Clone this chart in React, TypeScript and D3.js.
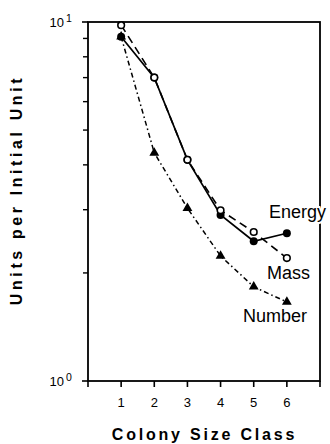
import React from "react";
import * as d3 from "d3";

const sizeClasses = [1, 2, 3, 4, 5, 6];
const energy = [9.1, 7.0, 4.13, 2.9, 2.45, 2.58];
const mass = [9.8, 7.0, 4.13, 2.99, 2.6, 2.2];
const numberSeries = [9.1, 4.32, 3.03, 2.23, 1.83, 1.66];
const xTickLabels = ["1", "2", "3", "4", "5", "6"];
const seriesLabels = ["Energy", "Mass", "Number"];

const W = 330;
const H = 444;
const left = 88;
const right = 320;
const top = 22;
const bottom = 381;

export default function App() {
  const x = d3.scaleLinear().domain([0, 7]).range([left, right]);
  const y = d3.scaleLog().domain([1, 10]).range([bottom, top]);
  const line = d3
    .line<number>()
    .x((_, i) => x(sizeClasses[i]))
    .y((d) => y(d));

  const minor = [2, 3, 4, 5, 6, 7, 8, 9];
  const font = "'Liberation Sans', Arial, Helvetica, sans-serif";
  const tri = d3.symbol().type(d3.symbolTriangle).size(42)();

  return (
    <svg
      width={W}
      height={H}
      style={{ position: "absolute", left: 0, top: 0, background: "#fff" }}
      fontFamily={font}
    >
      {/* frame */}
      <rect x={left} y={top} width={right - left} height={bottom - top} fill="none" stroke="#000" strokeWidth={1.8} />
      {/* x ticks */}
      {d3.range(0, 8).map((v) => (
        <line key={"xt" + v} x1={x(v)} x2={x(v)} y1={bottom} y2={bottom + 6} stroke="#000" strokeWidth={1.6} />
      ))}
      {sizeClasses.map((v, i) => (
        <text key={"xl" + v} x={x(v)} y={407} fontSize={13} textAnchor="middle">
          {xTickLabels[i]}
        </text>
      ))}
      {/* y ticks */}
      {[1, 10].map((v) => (
        <line key={"ym" + v} x1={left - 6} x2={left} y1={y(v)} y2={y(v)} stroke="#000" strokeWidth={1.6} />
      ))}
      {minor.map((v) => (
        <line key={"yn" + v} x1={left - 5} x2={left} y1={y(v)} y2={y(v)} stroke="#000" strokeWidth={1.4} />
      ))}
      {[
        { v: 10, e: "1" },
        { v: 1, e: "0" },
      ].map((t) => (
        <g key={"yl" + t.v}>
          <text x={64} y={y(t.v) + 4.5} fontSize={13} textAnchor="end">
            10
          </text>
          <text x={66} y={y(t.v) - 0.5} fontSize={10.5} textAnchor="start">
            {t.e}
          </text>
        </g>
      ))}

      {/* series lines */}
      <path d={line(numberSeries) || ""} fill="none" stroke="#000" strokeWidth={1.5} strokeDasharray="5,3,1.5,3" />
      <path d={line(mass) || ""} fill="none" stroke="#000" strokeWidth={1.6} strokeDasharray="8,5" />
      <path d={line(energy) || ""} fill="none" stroke="#000" strokeWidth={1.7} />

      {/* markers */}
      {numberSeries.map((v, i) => (
        <path key={"nm" + i} d={tri || ""} transform={`translate(${x(sizeClasses[i])},${y(v)})`} fill="#000" />
      ))}
      {energy.map((v, i) => (
        <circle key={"em" + i} cx={x(sizeClasses[i])} cy={y(v)} r={4} fill="#000" />
      ))}
      {mass.map((v, i) => (
        <circle key={"mm" + i} cx={x(sizeClasses[i])} cy={y(v)} r={3.3} fill="#fff" stroke="#000" strokeWidth={1.6} />
      ))}

      {/* series labels */}
      <text
        x={269}
        y={218}
        fontSize={18}
        stroke="#fff"
        strokeWidth={4}
        paintOrder="stroke"
        fill="#000"
      >
        {seriesLabels[0]}
      </text>
      <text x={267} y={279} fontSize={18}>
        {seriesLabels[1]}
      </text>
      <text x={243} y={322} fontSize={18}>
        {seriesLabels[2]}
      </text>

      {/* axis titles */}
      <text x={204.5} y={440} fontSize={16} fontWeight="bold" textAnchor="middle" letterSpacing={2.8}>
        Colony Size Class
      </text>
      <text
        transform="translate(22,190) rotate(-90)"
        fontSize={16}
        fontWeight="bold"
        textAnchor="middle"
        letterSpacing={3.6}
      >
        Units per Initial Unit
      </text>
    </svg>
  );
}
